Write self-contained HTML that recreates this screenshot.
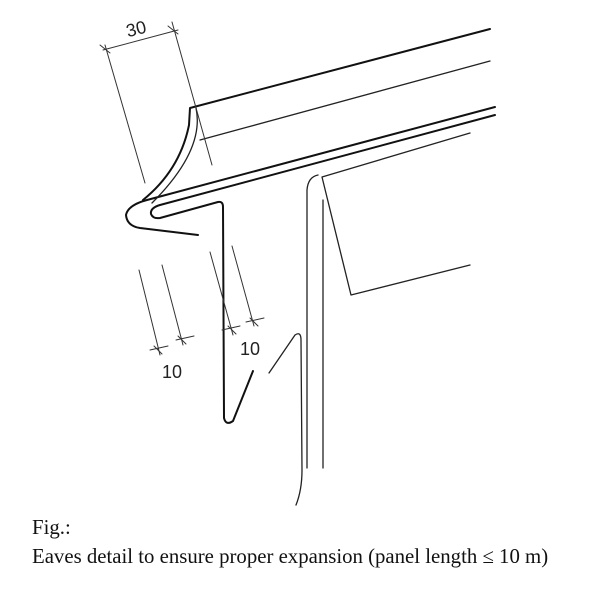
<!DOCTYPE html>
<html><head><style>
body{margin:0;background:#fff}
.c{position:absolute;font-family:"Liberation Serif",serif;font-size:20.8px;color:#111;left:32px;white-space:nowrap}
</style></head><body>
<div style="position:relative;width:600px;height:600px;overflow:hidden">
<svg width="600" height="600" style="position:absolute;left:0;top:0" fill="none" stroke-linecap="round" stroke-linejoin="round">
<g stroke="#111" stroke-width="2">
<path d="M490,29 L190,108 L189,125 Q180,170 143,200"/>
<path d="M495,107 L147,200 Q128,205 126,215 Q127,226 140,228 L198,235"/>
<path d="M495,115 L160,205 Q150,208 151,214 Q153,219 160,218 L218,202 Q223,201 223,207 L224,418 Q226,426 233,421 L253,371"/>
</g>
<g stroke="#222" stroke-width="1.3">
<path d="M490,61 L200,140"/>
<path d="M196,108 Q205,150 152,203"/>
<path d="M470,133 L322,177 L351,295 L470,265"/>
<path d="M269,373 L295,335 Q301,331 301,340 L302,470 Q302,490 296,505"/>
<path d="M307,468 L307,190 Q308,177 318,175"/>
<path d="M323,468 L323,200"/>
</g>
<g stroke="#333" stroke-width="1">
<path d="M105,45 L145,183 M172,22 L212,165 M103,50 L178,30"/>
<path d="M100,45 l10,8 M168,26 l10,8"/>
<path d="M139,270 L160,355 M162,265 L183,345"/>
<path d="M150,350 l18,-4 M176,340 l18,-4 M154,346 l8,8 M178,336 l8,8"/>
<path d="M210,252 L233,335 M232,246 L254,326"/>
<path d="M222,330 l18,-4 M246,322 l18,-4 M228,326 l8,8 M250,318 l8,8"/>
</g>
<g font-family="Liberation Sans,sans-serif" font-size="18" fill="#222">
<text x="126" y="34" transform="rotate(-14 140 28)">30</text>
<text x="162" y="378">10</text>
<text x="240" y="355">10</text>
</g>
</svg>
<div class="c" style="top:516px">Fig.:</div>
<div class="c" style="top:545px">Eaves detail to ensure proper expansion (panel length ≤ 10 m)</div>
</div>
</body></html>
